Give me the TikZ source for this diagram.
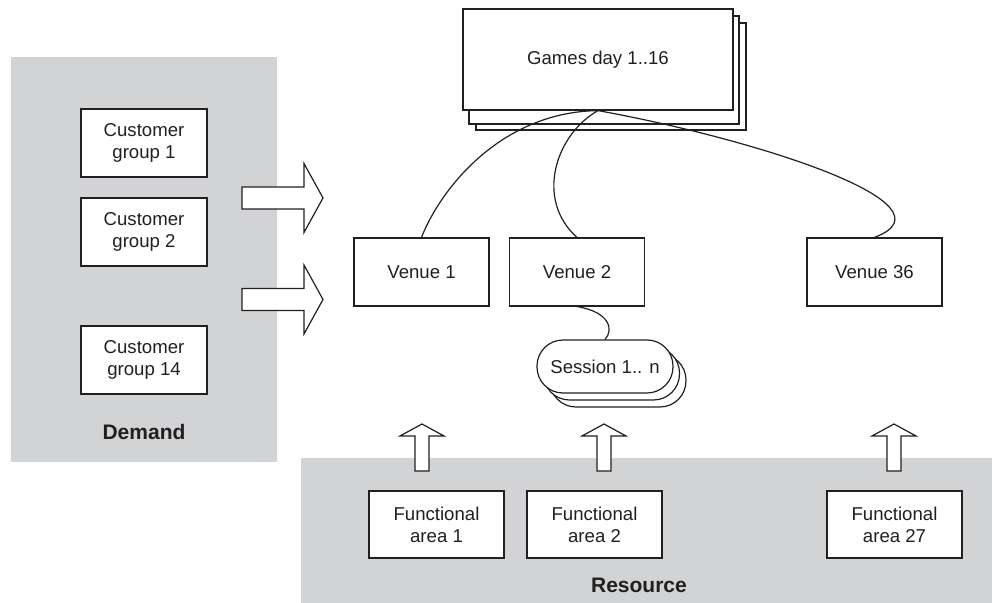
\documentclass[tikz,border=0pt]{standalone}
\usepackage{fontspec}
\setmainfont{Liberation Sans}
\usepackage{tikz}
\usetikzlibrary{positioning, calc}
\definecolor{PanelGray}{RGB}{209,211,212}
\definecolor{InkGray}{RGB}{35,31,32}

\begin{document}
\begin{tikzpicture}[x=0.5pt, y=-0.5pt,
    every node/.style={font=\fontsize{9.3}{11}\selectfont, text=InkGray},
    panel/.style={fill=PanelGray, inner sep=0pt},
    unitbox/.style={draw=InkGray, fill=white, line width=0.6pt, align=center,
                    inner sep=0pt, minimum width=67.5pt, minimum height=34pt},
    sessbox/.style={unitbox, rounded corners=13pt, minimum width=68pt, minimum height=26.5pt},
    link/.style={draw=InkGray, line width=0.6pt},
    blockarrow/.style={draw=InkGray, fill=white, line width=0.6pt, line join=miter},
    paneltitle/.style={font=\fontsize{10.5}{12}\selectfont\bfseries}]
  \useasboundingbox (0,0) rectangle (992,603);

  % demand and resource panels
  \node[panel, minimum width=133pt, minimum height=202.5pt] (demand) at (144,259.5) {};
  \node[panel, minimum width=345.5pt, minimum height=72.5pt] (resource) at (646.5,530.5) {};

  \node[unitbox, minimum width=63pt] (cg1) at (144,143) {Customer\\group 1};
  \node[unitbox, minimum width=63pt] (cg2) at (144,232) {Customer\\group 2};
  \node[unitbox, minimum width=63pt] (cg14) at (144,360) {Customer\\group 14};
  \node[paneltitle] (demandlbl) at (144,432) {Demand};

  \node[unitbox, minimum height=33.5pt] (fa1) at (436.5,524.5) {Functional\\area 1};
  \node[unitbox, minimum height=33.5pt] (fa2) at (594.5,524.5) {Functional\\area 2};
  \node[unitbox, minimum height=33.5pt] (fa27) at (894.5,524.5) {Functional\\area 27};
  \node[paneltitle] (resourcelbl) at (639,585) {Resource};

  % games days (stacked)
  \node[unitbox, minimum width=135pt, minimum height=53.5pt] (gd3) at (611,76.5) {};
  \node[unitbox, minimum width=135pt, minimum height=54pt] (gd2) at (604,70) {};
  \node[unitbox, minimum width=135pt, minimum height=50.5pt] (gd) at (598,59.5) {Games day 1..16};

  \node[unitbox] (v1) at (421.5,272) {Venue 1};
  \node[unitbox] (v2) at (577,272) {Venue 2};
  \node[unitbox] (v36) at (874.5,272) {Venue 36};

  % sessions (stacked)
  \node[sessbox] (s3) at (618,380.5) {};
  \node[sessbox] (s2) at (611.5,373.5) {};
  \node[sessbox] (sess) at (605,366.5) {Session 1.. n};

  \draw[link] (gd.south) .. controls (500,112) and (440,190) .. (v1.north);
  \draw[link] (gd.south) .. controls (555,135) and (535,200) .. (v2.north);
  \draw[link] (gd.south) .. controls (760,140) and (960,205) .. (v36.north);
  \draw[link] (v2.south) .. controls (610,312) and (614,330) .. (sess.north);

  % block arrows
  \coordinate (inA) at (242,198);
  \coordinate (inB) at (242,299.5);
  \coordinate (upA) at (422,471);
  \coordinate (upB) at (604,471);
  \coordinate (upC) at (894,471);
  \foreach \c in {inA,inB}
    \draw[blockarrow] (\c) ++(0,-11) -- ++(62,0) -- ++(0,-23.5) -- ++(19,34.5)
      -- ++(-19,34.5) -- ++(0,-23.5) -- ++(-62,0) -- cycle;
  \foreach \c in {upA,upB,upC}
    \draw[blockarrow] (\c) ++(-7,0) -- ++(0,-35) -- ++(-15,0) -- ++(22,-12)
      -- ++(22,12) -- ++(-15,0) -- ++(0,35) -- cycle;
\end{tikzpicture}
\end{document}
